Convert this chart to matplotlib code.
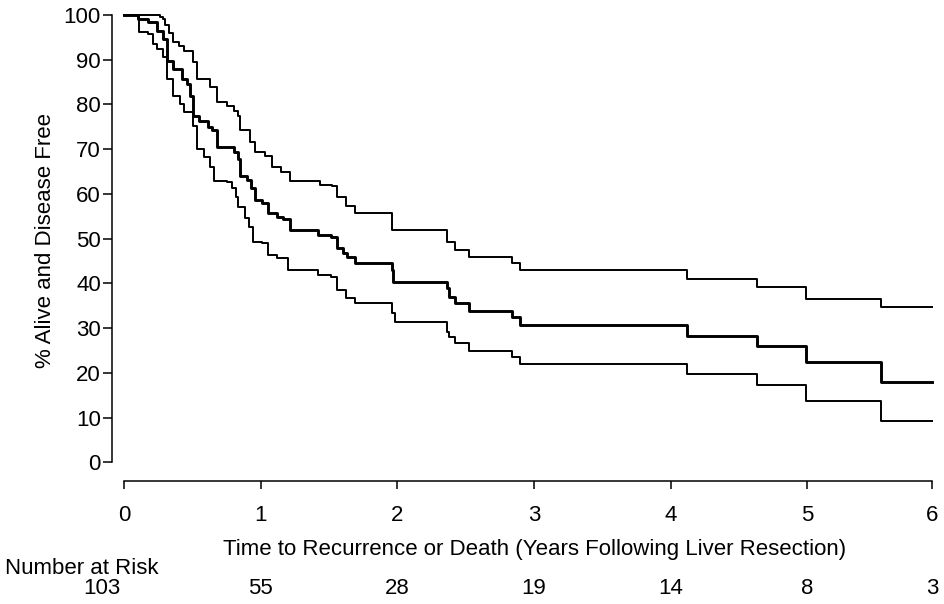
import numpy as np
import matplotlib
matplotlib.use("Agg")
import matplotlib.pyplot as plt
import matplotlib.transforms as mtransforms

plt.rcParams['font.family'] = ['Liberation Sans', 'DejaVu Sans']

# ---------------- data ----------------
upper_t = [0.00, 0.26, 0.28, 0.30, 0.33, 0.36, 0.40, 0.44, 0.50, 0.53, 0.63, 0.68, 0.75,
           0.80, 0.83, 0.85, 0.92, 0.96, 1.03, 1.08, 1.15, 1.21, 1.43, 1.52, 1.56,
           1.62, 1.69, 1.96, 2.36, 2.42, 2.52, 2.84, 2.90, 4.12, 4.63, 4.99, 5.59, 6.00]
upper_s = [100.0, 99.6, 99.0, 97.8, 96.0, 94.0, 93.0, 92.0, 89.5, 85.6, 83.9, 80.5, 79.6,
           78.5, 77.4, 74.4, 71.7, 69.3, 68.4, 66.1, 65.0, 62.8, 62.1, 61.7, 59.4,
           57.2, 55.8, 52.0, 49.3, 47.5, 46.0, 44.6, 43.0, 41.0, 39.1, 36.5, 34.7, 34.7]

mid_t = [0.00, 0.10, 0.17, 0.24, 0.28, 0.31, 0.36, 0.42, 0.46, 0.48, 0.50, 0.55, 0.61,
         0.64, 0.68, 0.75, 0.80, 0.83, 0.85, 0.90, 0.93, 0.96, 1.01, 1.05, 1.12, 1.16,
         1.21, 1.42, 1.51, 1.56, 1.60, 1.63, 1.69, 1.96, 1.97, 2.36, 2.38, 2.42, 2.52,
         2.84, 2.90, 4.12, 4.63, 4.99, 5.59, 6.00]
mid_s = [100.0, 99.0, 98.4, 96.4, 94.6, 89.7, 87.9, 85.6, 84.5, 81.8, 77.4, 76.2, 74.9,
         74.4, 70.6, 70.4, 69.3, 67.7, 63.9, 63.2, 61.4, 58.7, 58.0, 55.8, 54.9, 54.3,
         52.0, 50.9, 50.4, 48.0, 46.9, 46.0, 44.6, 43.0, 40.2, 39.0, 37.0, 35.7, 33.9,
         32.5, 30.7, 28.3, 25.9, 22.4, 17.9, 17.9]

low_t = [0.00, 0.10, 0.11, 0.17, 0.21, 0.24, 0.28, 0.31, 0.36, 0.41, 0.44, 0.50, 0.53,
         0.58, 0.63, 0.66, 0.75, 0.79, 0.82, 0.83, 0.88, 0.91, 0.94, 1.01, 1.05, 1.12,
         1.20, 1.42, 1.51, 1.56, 1.62, 1.69, 1.96, 1.98, 2.36, 2.38, 2.42, 2.52, 2.84,
         2.90, 4.12, 4.63, 4.99, 5.59, 6.00]
low_s = [100.0, 99.5, 96.2, 95.7, 93.5, 92.4, 90.6, 85.6, 81.8, 80.0, 78.3, 75.1, 70.0,
         68.2, 66.1, 62.8, 62.6, 61.4, 59.4, 57.0, 54.7, 52.5, 49.3, 49.1, 46.4, 45.7,
         43.0, 41.9, 41.5, 38.6, 36.8, 35.7, 33.4, 31.4, 29.2, 28.0, 26.7, 24.9, 23.5,
         22.0, 19.7, 17.3, 13.7, 9.2, 9.2]

x_ticks = [0, 1, 2, 3, 4, 5, 6]
y_ticks = [0, 10, 20, 30, 40, 50, 60, 70, 80, 90, 100]
risk_times = [0, 1, 2, 3, 4, 5, 6]
risk_counts = ["103", "55", "28", "19", "14", "8", "3"]

FS = 16

# ---------------- figure ----------------
W, H = 945, 604
fig = plt.figure(figsize=(W / 100, H / 100), dpi=100)
ax = fig.add_axes([124.3 / W, 1 - 462.3 / H, 808 / W, (462.3 - 15) / H])

# the printed axis is slightly compressed after year 5
r = 125.0 / 136.6
def fwd(x):
    x = np.asarray(x, dtype=float)
    return np.where(x <= 5, x, 5 + (x - 5) * r)
def inv(y):
    y = np.asarray(y, dtype=float)
    return np.where(y <= 5, y, 5 + (y - 5) / r)
ax.set_xscale('function', functions=(fwd, inv))

ax.step(upper_t, upper_s, where='post', color='black', lw=1.4, clip_on=False)
ax.step(low_t, low_s, where='post', color='black', lw=1.4, clip_on=False)
ax.step(mid_t, mid_s, where='post', color='black', lw=2.1, clip_on=False)

ax.set_xlim(0, 6)
ax.set_ylim(0, 100)

for s in ['top', 'right']:
    ax.spines[s].set_visible(False)
ax.spines['left'].set_position(('outward', 12.3 * 0.72))
ax.spines['bottom'].set_position(('outward', 19 * 0.72))
ax.spines['left'].set_bounds(0, 100)
ax.spines['bottom'].set_bounds(0, 6)
for s in ['left', 'bottom']:
    ax.spines[s].set_linewidth(1.1)

ax.set_xticks(x_ticks)
ax.set_xticklabels([str(v) for v in x_ticks])
ax.set_yticks(y_ticks)
ax.set_yticklabels([str(v) for v in y_ticks])
ax.xaxis.set_minor_locator(matplotlib.ticker.NullLocator())
ax.tick_params(axis='y', direction='out', length=6.5, width=1.1, pad=1.5, labelsize=FS)
ax.tick_params(axis='x', direction='out', length=6, width=1.1, pad=11, labelsize=FS)

# y label
fig.text(46 / W, 1 - 240 / H, "% Alive and Disease Free", rotation=90,
         ha='center', va='center', fontsize=FS)

# x label
blend = mtransforms.blended_transform_factory(ax.transData, fig.transFigure)
fig.text(3, 1 - 549 / H, "Time to Recurrence or Death (Years Following Liver Resection)",
         transform=blend, ha='center', va='center', fontsize=FS)

# number at risk
fig.text(5 / W, 1 - 568 / H, "Number at Risk", ha='left', va='center', fontsize=FS)
for t, c in zip(risk_times, risk_counts):
    if t == 0:
        tr = mtransforms.offset_copy(blend, fig=fig, x=-4, y=0, units='dots')
        fig.text(t, 1 - 588 / H, c, transform=tr, ha='right', va='center', fontsize=FS)
    else:
        fig.text(t, 1 - 588 / H, c, transform=blend, ha='center', va='center', fontsize=FS)

fig.savefig("out.png", dpi=100)
